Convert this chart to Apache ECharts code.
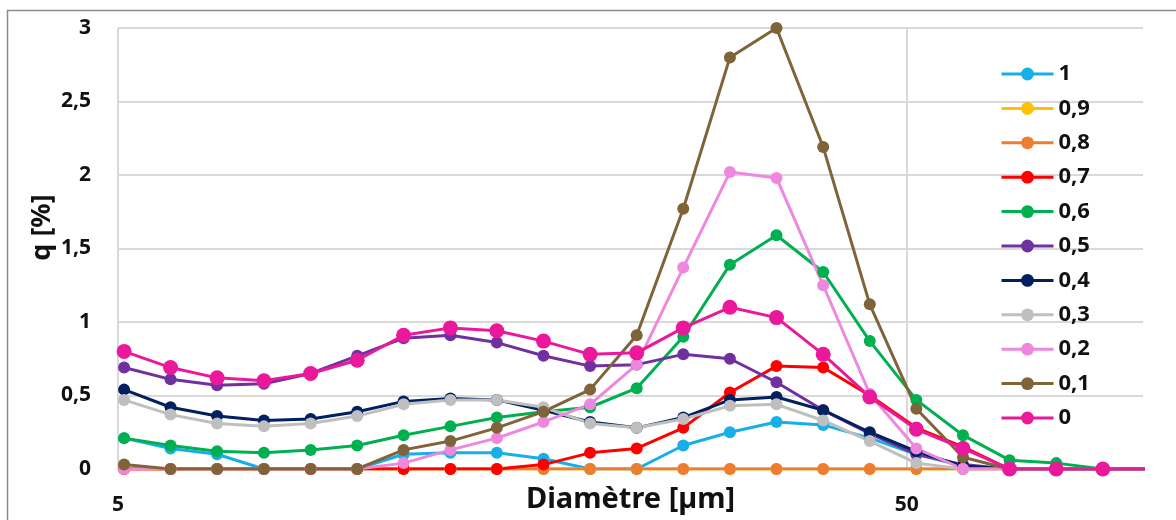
<!DOCTYPE html>
<html>
<head>
<meta charset="utf-8">
<script src="https://cdn.jsdelivr.net/npm/echarts@6/dist/echarts.min.js"></script>
<style>
html,body{margin:0;padding:0;background:#fff;}
#c{width:1176px;height:520px;}
</style>
</head>
<body>
<div id="c"></div>
<script>
// Diameters [µm] (log scale), last one lies just beyond the axis end
const diameters = [5.09, 5.83, 6.68, 7.66, 8.78, 10.06, 11.52, 13.21, 15.13, 17.34, 19.87, 22.77, 26.09, 29.90, 34.26, 39.27, 45.00, 51.56, 59.09, 67.71, 77.60, 88.92, 101.9];

const seriesNames = ['1', '0,9', '0,8', '0,7', '0,6', '0,5', '0,4', '0,3', '0,2', '0,1', '0'];

const q_1   = [0.21, 0.14, 0.10, 0, 0, 0, 0.10, 0.11, 0.11, 0.07, 0, 0, 0.16, 0.25, 0.32, 0.30, 0.21, 0.10, 0.02, 0, 0, 0, 0];
const q_0_9 = [0, 0, 0, 0, 0, 0, 0, 0, 0, 0, 0, 0, 0, 0, 0, 0, 0, 0, 0, 0, 0, 0, 0];
const q_0_8 = [0, 0, 0, 0, 0, 0, 0, 0, 0, 0, 0, 0, 0, 0, 0, 0, 0, 0, 0, 0, 0, 0, 0];
const q_0_7 = [0, 0, 0, 0, 0, 0, 0, 0, 0, 0.03, 0.11, 0.14, 0.28, 0.52, 0.70, 0.69, 0.50, 0.28, 0.15, 0, 0, 0, 0];
const q_0_6 = [0.21, 0.16, 0.12, 0.11, 0.13, 0.16, 0.23, 0.29, 0.35, 0.39, 0.42, 0.55, 0.90, 1.39, 1.59, 1.34, 0.87, 0.47, 0.23, 0.06, 0.04, 0, 0];
const q_0_5 = [0.69, 0.61, 0.57, 0.58, 0.65, 0.77, 0.89, 0.91, 0.86, 0.77, 0.70, 0.71, 0.78, 0.75, 0.59, 0.40, 0.24, 0.10, 0.03, 0, 0, 0, 0];
const q_0_4 = [0.54, 0.42, 0.36, 0.33, 0.34, 0.39, 0.46, 0.48, 0.47, 0.40, 0.32, 0.28, 0.35, 0.47, 0.49, 0.40, 0.25, 0.12, 0.02, 0, 0, 0, 0];
const q_0_3 = [0.47, 0.37, 0.31, 0.29, 0.31, 0.36, 0.44, 0.47, 0.47, 0.42, 0.31, 0.28, 0.34, 0.43, 0.44, 0.33, 0.19, 0.04, 0, 0, 0, 0, 0];
const q_0_2 = [0, 0, 0, 0, 0, 0, 0.04, 0.13, 0.21, 0.32, 0.44, 0.71, 1.37, 2.02, 1.98, 1.25, 0.51, 0.14, 0, 0, 0, 0, 0];
const q_0_1 = [0.03, 0, 0, 0, 0, 0, 0.13, 0.19, 0.28, 0.39, 0.54, 0.91, 1.77, 2.80, 3.00, 2.19, 1.12, 0.41, 0.08, 0, 0, 0, 0];
const q_0   = [0.80, 0.69, 0.62, 0.60, 0.65, 0.74, 0.91, 0.96, 0.94, 0.87, 0.78, 0.79, 0.96, 1.10, 1.03, 0.78, 0.49, 0.27, 0.14, 0, 0, 0, 0];

const allValues = [q_1, q_0_9, q_0_8, q_0_7, q_0_6, q_0_5, q_0_4, q_0_3, q_0_2, q_0_1, q_0];
const colors = ['#17AFE8', '#FFC000', '#ED7D31', '#FF0000', '#00B050', '#7030A0', '#002060', '#BFBFBF', '#EE88DE', '#7F6339', '#EA199C'];
const sizes  = [12, 12, 12, 12, 12, 12, 12, 12, 12, 12, 15];

const FONT = "'Noto Sans', 'Open Sans', sans-serif";

const chart = echarts.init(document.getElementById('c'));
const series = seriesNames.map((name, k) => ({
  name: name,
  type: 'line',
  data: diameters.map((d, i) => [d, allValues[k][i]]),
  symbol: 'circle',
  symbolSize: sizes[k],
  showSymbol: true,
  clip: true,
  color: colors[k],
  lineStyle: { width: 3, color: colors[k] },
  itemStyle: { color: colors[k] },
  emphasis: { disabled: true },
  animation: false
}));

chart.setOption({
  animation: false,
  graphic: [{
    type: 'rect',
    shape: { x: 7.5, y: 10.5, width: 1300, height: 700 },
    style: { fill: 'none', stroke: '#8c8c8c', lineWidth: 1.5 },
    silent: true, z: -10
  }],
  grid: { left: 118, right: 33, top: 28, bottom: 51, containLabel: false, outerBoundsMode: 'none' },
  legend: {
    orient: 'vertical',
    left: 1000,
    top: 63,
    padding: 0,
    itemWidth: 52,
    itemHeight: 16,
    itemGap: 12.4,
    data: seriesNames,
    lineStyle: { width: 3 },
    textStyle: { fontFamily: FONT, fontSize: 22, fontWeight: 'bold', color: '#111', lineHeight: 22 }
  },
  xAxis: {
    type: 'log',
    logBase: 10,
    min: 5,
    max: 100,
    interval: 1,
    name: 'Diamètre [µm]',
    nameLocation: 'middle',
    nameGap: 31,
    nameMoveOverlap: false,
    nameTextStyle: { fontFamily: FONT, fontSize: 29, fontWeight: 'bold', color: '#111', verticalAlign: 'middle' },
    axisLine: { show: true, lineStyle: { color: '#d9d9d9', width: 2 } },
    axisTick: { show: false },
    axisLabel: { fontFamily: FONT, fontSize: 21, fontWeight: 'bold', color: '#111', margin: 26, showMaxLabel: false, formatter: v => String(Math.round(v)) },
    splitLine: { show: true, lineStyle: { color: ['#d9d9d9', '#d9d9d9', 'rgba(0,0,0,0)'], width: 2 } }
  },
  yAxis: {
    type: 'value',
    min: 0,
    max: 3,
    interval: 0.5,
    name: 'q [%]',
    nameLocation: 'middle',
    nameGap: 76,
    nameRotate: 90,
    nameMoveOverlap: false,
    nameTextStyle: { fontFamily: FONT, fontSize: 27, fontWeight: 'bold', color: '#111', verticalAlign: 'middle', padding: [0, 0, 0, 42] },
    axisLine: { show: false },
    axisTick: { show: false },
    axisLabel: { fontFamily: FONT, fontSize: 21, fontWeight: 'bold', color: '#111', margin: 27, formatter: v => String(v).replace('.', ',') },
    splitLine: { show: true, lineStyle: { color: '#d9d9d9', width: 2 } }
  },
  series: series
});
</script>
</body>
</html>
